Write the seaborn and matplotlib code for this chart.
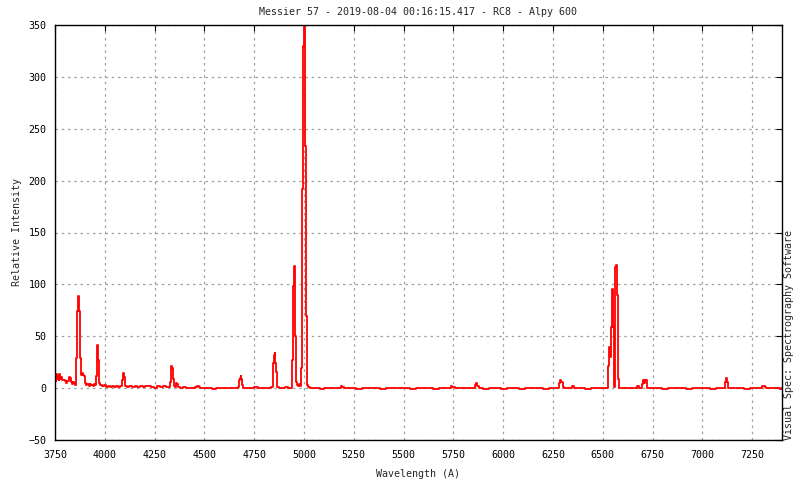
import matplotlib
matplotlib.use("Agg")
import matplotlib.pyplot as plt
import seaborn as sns
import pandas as pd

wavelength = [
    3750, 3753, 3756, 3760, 3764, 3768, 3772, 3776, 3780, 3786, 3792, 3798, 3804, 3808, 3814, 3820,
    3824, 3828, 3832, 3836, 3840, 3845, 3850, 3855, 3860, 3865, 3870, 3875, 3880, 3885, 3890, 3895,
    3900, 3905, 3910, 3920, 3925, 3930, 3940, 3945, 3950, 3955, 3960, 3963, 3967, 3970, 3975, 3985,
    3995, 4005, 4015, 4025, 4035, 4045, 4055, 4065, 4075, 4085, 4088, 4093, 4098, 4103, 4110, 4120,
    4135, 4150, 4160, 4175, 4190, 4200, 4215, 4230, 4245, 4260, 4275, 4290, 4305, 4318, 4328, 4333,
    4338, 4343, 4348, 4353, 4357, 4362, 4367, 4380, 4395, 4410, 4425, 4440, 4455, 4463, 4473, 4480,
    4500, 4520, 4540, 4560, 4580, 4600, 4620, 4640, 4660, 4670, 4675, 4678, 4682, 4685, 4690, 4695,
    4710, 4730, 4750, 4770, 4790, 4810, 4825, 4835, 4842, 4845, 4850, 4853, 4857, 4862, 4867, 4875,
    4890, 4905, 4920, 4930, 4938, 4942, 4945, 4950, 4953, 4957, 4962, 4967, 4972, 4977, 4981, 4985,
    4990, 4995, 4998, 5003, 5008, 5013, 5018, 5030, 5045, 5060, 5080, 5100, 5120, 5140, 5160, 5180,
    5185, 5192, 5200, 5230, 5260, 5290, 5320, 5350, 5380, 5410, 5440, 5470, 5500, 5530, 5560, 5590,
    5620, 5650, 5680, 5710, 5738, 5745, 5760, 5790, 5820, 5850, 5858, 5863, 5870, 5878, 5900, 5930,
    5960, 5990, 6020, 6050, 6080, 6110, 6140, 6170, 6200, 6230, 6260, 6278, 6283, 6292, 6298, 6305,
    6320, 6335, 6347, 6355, 6380, 6410, 6440, 6470, 6500, 6520, 6525, 6530, 6535, 6542, 6547, 6553,
    6557, 6560, 6563, 6567, 6572, 6577, 6580, 6600, 6620, 6640, 6660, 6670, 6680, 6690, 6697, 6700,
    6705, 6708, 6712, 6717, 6722, 6740, 6770, 6800, 6830, 6860, 6890, 6920, 6950, 6980, 7010, 7040,
    7070, 7100, 7113, 7117, 7122, 7127, 7150, 7180, 7210, 7240, 7270, 7300, 7315, 7320, 7350, 7380,
    7390, 7400,
]

intensity = [
    11, 7, 14, 9, 12, 8, 14, 9, 11, 8, 8, 7, 5, 7, 7, 11,
    10, 8, 6, 4, 6, 5, 3, 29, 74, 89, 74, 29, 13, 15, 13, 12,
    5, 3, 4, 2, 4, 3, 2, 4, 3, 12, 41, 42, 27, 5, 3, 2,
    3, 1, 2, 1, 2, 1, 2, 1, 2, 2, 8, 15, 11, 2, 1, 2,
    1, 2, 1, 2, 1, 2, 2.5, 1, 0.5, 2, 1, 2, 1, 1.5, 6, 21,
    19, 9, 2, 1, 4.5, 4, 1, 0.5, 1, 0.5, 0.5, 0.5, 1, 2.5, 1, 0.3,
    0.3, 0.3, -0.5, 0.3, 0.3, 0.3, 0.3, 0.3, 0.3, 1, 7.5, 10, 11.5, 8.5, 3, 0.5,
    0.3, 0.3, 1, 0.3, 0.3, 0.5, 0.3, 1, 3, 24, 32, 34, 24, 16, 1.5, 0.3,
    0.3, 1, 0.3, 0.5, 3, 27, 98, 118, 106, 50, 6, 3, 2, 4, 2, 19,
    192, 330, 365, 233, 70, 3, 1, 0.3, 0.5, 0.3, -0.5, 0.3, 0.5, 0.3, 0.5, 0.3,
    2.5, 1, 0.3, 0.5, -0.5, 0.3, 0.5, 0.3, -0.5, 0.3, 0.5, 0.3, 0.3, -0.5, 0.3, 0.5,
    0.3, -0.5, 0.3, 0.5, 2, 1, 0.3, 0.5, 0.3, 0.5, 3, 4.5, 2, 0.3, -0.5, 0.3,
    0.5, -0.5, 0.3, 0.3, -0.5, 0.3, 0.5, 0.3, -0.5, 0.3, 0.5, 4.5, 8.3, 6, 1.5, 0.3,
    0.5, 0.3, 2.5, 0.3, 0.5, -0.5, 0.3, 0.5, 0.3, 0.5, 21, 40, 30, 59, 96, 59,
    1, 59, 117, 119, 90, 9, 0.3, 0.5, 0.3, 0.3, 0.5, 2, 0.5, 0.3, 4, 8,
    8, 5, 7.5, 7.5, 0.5, 0.3, 0.5, -0.5, 0.3, 0.5, 0.3, -0.5, 0.3, 0.5, 0.3, -0.5,
    0.3, 0.5, 6, 9.5, 6, 0.5, 0.3, 0.5, -0.5, 0.3, 0.5, 2.5, 1.5, 0.5, 0.5, 0.3,
    -1, 0.3,
]

x_ticks = [3750, 4000, 4250, 4500, 4750, 5000, 5250, 5500, 5750, 6000, 6250, 6500, 6750, 7000, 7250]
y_ticks = [-50, 0, 50, 100, 150, 200, 250, 300, 350]

title = "Messier 57 - 2019-08-04 00:16:15.417 - RC8 - Alpy 600"
x_label = "Wavelength (A)"
y_label = "Relative Intensity"
credit = "Visual Spec: Spectrography Software"

df = pd.DataFrame({"wavelength": wavelength, "intensity": intensity})

sns.set_style("white")
plt.rcParams["font.family"] = ["DejaVu Sans Mono"]
plt.rcParams["font.size"] = 7.2

fig = plt.figure(figsize=(8, 4.8), dpi=100)
ax = fig.add_axes([55 / 800, 1 - 440 / 480, (782 - 55) / 800, (440 - 25) / 480])

sns.lineplot(data=df, x="wavelength", y="intensity", ax=ax, color="#ff0000",
             linewidth=1.3, drawstyle="steps-post", estimator=None, sort=False)

ax.set_xlim(3750, 7400)
ax.set_ylim(-50, 350)
ax.set_xticks(x_ticks)
ax.set_yticks(y_ticks)
ax.grid(True, color="#a0a0a0", linestyle=(0, (2, 3)), linewidth=0.9)
ax.set_axisbelow(True)
for s in ax.spines.values():
    s.set_color("black")
    s.set_linewidth(1.0)
ax.tick_params(direction="in", length=4, width=0.8, top=True, right=True,
               labelsize=7.2, colors="black")
ax.tick_params(axis="y", pad=6)
ax.tick_params(axis="x", pad=7)

ax.set_title(title, fontsize=7.2, pad=7)
ax.set_xlabel(x_label, fontsize=7.2, labelpad=7)
ax.set_ylabel(y_label, fontsize=7.2, labelpad=5)
fig.text(789 / 800, 1 - 440 / 480, credit, rotation=90, ha="center", va="bottom", fontsize=7.2)

fig.savefig("out.png", dpi=100)
